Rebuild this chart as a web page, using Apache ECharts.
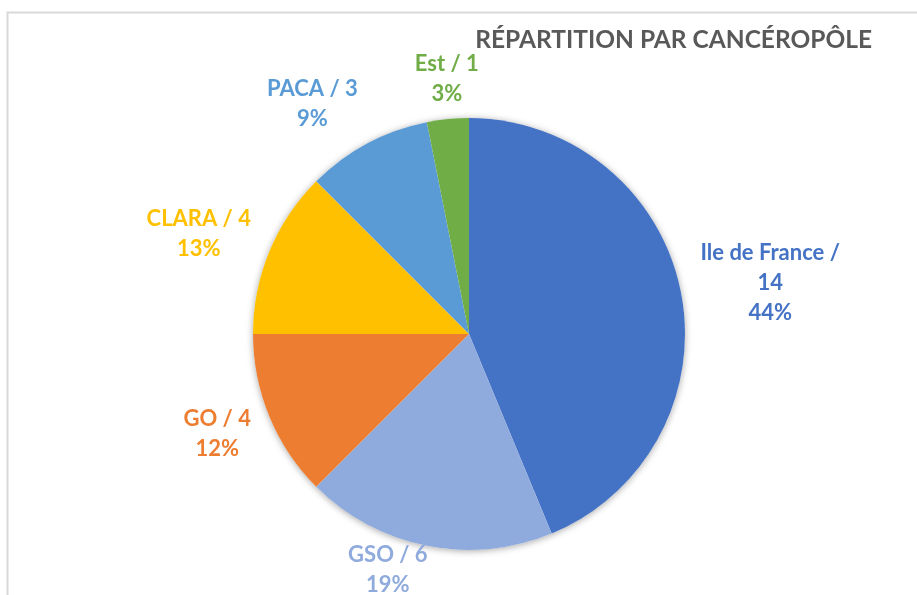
<!DOCTYPE html>
<html>
<head>
<meta charset="utf-8">
<script src="https://cdn.jsdelivr.net/npm/echarts@6/dist/echarts.min.js"></script>
<style>
  html, body { margin: 0; padding: 0; background: #fff; }
  #chart { width: 917px; height: 595px; }
</style>
</head>
<body>
<div id="chart"></div>
<script>
const categories = ['Ile de France', 'GSO', 'GO', 'CLARA', 'PACA', 'Est'];
const counts = [14, 6, 4, 4, 3, 1];
const percentLabels = ['44%', '19%', '12%', '13%', '9%', '3%'];
const colors = ['#4472C4', '#8FAADC', '#ED7D31', '#FFC000', '#5B9BD5', '#70AD47'];

const CX = 469, CY = 334, R = 216;
const total = counts.reduce((a, b) => a + b, 0);

const chart = echarts.init(document.getElementById('chart'));

// Excel-like placement: anchor on the slice's mid ray just past the edge,
// the label box hangs off that point by its side (or top / bottom)
const placeLabel = params => {
    const i = params.dataIndex;
    let before = 0;
    for (let k = 0; k < i; k++) before += counts[k];
    const a = (before + counts[i] / 2) / total * Math.PI * 2;
    const dx = Math.sin(a), dy = -Math.cos(a);
    const w = params.labelRect.width, h = params.labelRect.height;
    let x, y;
    if (Math.abs(dx) > 0.3) {
        x = CX + dx * (R + 20) + Math.sign(dx) * w / 2;
        y = CY + dy * (R + 45);
    } else {
        x = CX + dx * (R + 10);
        y = CY + dy * (R + 10) + Math.sign(dy) * h / 2;
        // keep inside the chart area
        y = Math.min(Math.max(y, h / 2), 600 - h / 2);
        // if pushed back onto the pie, slide sideways off it
        const row = dy > 0 ? y - h / 2 + 6 : y + h / 2 - 6;
        if (Math.abs(row - CY) < R) {
            const half = Math.sqrt(R * R - (row - CY) * (row - CY));
            if (dx < 0) x = Math.min(x, CX - half - w / 2);
            else x = Math.max(x, CX + half + w / 2);
        }
    }
    return { x, y, align: 'center', verticalAlign: 'middle' };
};

chart.setOption({
    animation: false,
    title: {
        text: 'RÉPARTITION PAR CANCÉROPÔLE',
        right: 40,
        top: 23,
        textStyle: { fontFamily: 'Lato', fontWeight: 'bold', fontSize: 24.5, color: '#595959' },
    },
    graphic: [
        {
            type: 'rect',
            shape: { x: 7.5, y: 12.5, width: 1000, height: 1000 },
            style: { fill: 'none', stroke: '#d9d9d9', lineWidth: 2 },
            silent: true,
        },
    ],
    series: [
        {
            // shadow under the pie
            type: 'pie',
            silent: true,
            center: [CX, CY],
            radius: R,
            z: 1,
            label: { show: false },
            labelLine: { show: false },
            itemStyle: { color: '#fff', shadowBlur: 7, shadowColor: 'rgba(0,0,0,0.35)', shadowOffsetY: 1 },
            data: [{ value: 1 }],
        },
        {
            type: 'pie',
            center: [CX, CY],
            radius: R,
            startAngle: 90,
            clockwise: true,
            z: 2,
            avoidLabelOverlap: false,
            data: categories.map((name, i) => ({
                name,
                value: counts[i],
                itemStyle: { color: colors[i] },
                label: { color: colors[i] },
            })),
            itemStyle: { borderWidth: 0 },
            label: {
                show: true,
                position: 'outside',
                fontFamily: 'Lato',
                fontWeight: 'bold',
                fontSize: 22,
                lineHeight: 30,
                align: 'center',
                formatter: p => {
                    const head = p.name.length > 10 ? `${p.name} /\n${p.value}` : `${p.name} / ${p.value}`;
                    return `${head}\n${percentLabels[p.dataIndex]}`;
                },
            },
            labelLine: { show: false },
            labelLayout: placeLabel,
        },
    ],
});
</script>
</body>
</html>
